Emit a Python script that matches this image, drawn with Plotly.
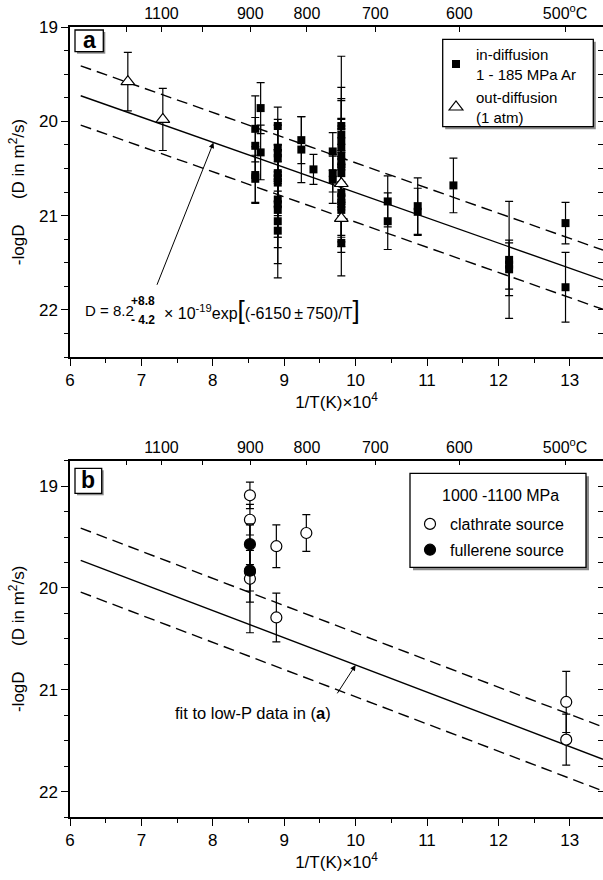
import numpy as np
import plotly.graph_objects as go

# ---------------- data ----------------
# panel (a): in-diffusion, 1 - 185 MPa Ar  (x = 1/T(K) x 10^4, y = -logD)
a_in_x = [8.595, 8.595, 8.595, 8.595,
          8.67, 8.67,
          8.91, 8.91, 8.91, 8.91, 8.91, 8.91, 8.91, 8.91, 8.91, 8.91, 8.91, 8.91,
          9.24, 9.24,
          9.41,
          9.68, 9.68, 9.68,
          9.80, 9.80, 9.80, 9.80, 9.80, 9.80, 9.80, 9.80, 9.80, 9.80, 9.80, 9.80, 9.80,
          10.45, 10.45,
          10.87, 10.87,
          11.37,
          12.15, 12.15, 12.15,
          12.94, 12.94]
a_in_y = [20.08, 20.26, 20.57, 20.61,
          19.86, 20.33,
          20.05, 20.28, 20.34, 20.39, 20.55, 20.60, 20.65, 20.83, 20.88, 20.94, 21.06, 21.16,
          20.20, 20.30,
          20.51,
          20.32, 20.55, 20.62,
          20.05, 20.14, 20.21, 20.28, 20.37, 20.43, 20.48, 20.55, 20.76, 20.83, 20.88, 20.94, 21.29,
          20.85, 21.06,
          20.90, 20.96,
          20.68,
          21.47, 21.52, 21.57,
          21.08, 21.76]
a_in_err = [0.35, 0.30, 0.30, 0.25,
            0.27, 0.29,
            0.20, 0.30, 0.30, 0.35, 0.30, 0.30, 0.35, 0.40, 0.35, 0.40, 0.45, 0.50,
            0.25, 0.35,
            0.16,
            0.20, 0.20, 0.25,
            0.74, 0.50, 0.45, 0.50, 0.40, 0.45, 0.40, 0.50, 0.45, 0.50, 0.40, 0.45, 0.35,
            0.27, 0.30,
            0.30, 0.25,
            0.29,
            0.62, 0.26, 0.28,
            0.22, 0.37]

# panel (a): out-diffusion, 1 atm
a_out_x = [6.81, 7.30, 9.80, 9.80]
a_out_y = [19.58, 19.98, 20.66, 21.03]
a_out_err = [0.31, 0.33, 0.20, 0.20]

# panel (b): 1000 - 1100 MPa
b_clath_x = [8.52, 8.52, 8.52, 8.52, 8.89, 8.89, 9.31, 12.95, 12.95]
b_clath_y = [19.09, 19.33, 19.84, 19.91, 19.59, 20.29, 19.46, 21.12, 21.49]
b_clath_err = [0.13, 0.15, 0.30, 0.53, 0.21, 0.24, 0.18, 0.30, 0.25]
b_full_x = [8.52, 8.52]
b_full_y = [19.57, 19.83]
b_full_err = [0.20, 0.20]

# Arrhenius fit to the low-pressure data: D = 8.2(+8.8/-4.2)e-19 exp(-6150/T)
D0 = 8.2e-19
D0_plus = 8.8e-19
D0_minus = 4.2e-19
EA_K = 6150.0
fit_x = [6.15, 13.465]

# upper temperature scale
temps_C = [1200, 1100, 1000, 900, 800, 700, 600, 500]
temp_labels = ["", "1100", "", "900", "800", "700", "600", "500<sup>o</sup>C"]


def neg_log_d(d0, x):
    x = np.asarray(x, dtype=float)
    return -np.log10(d0) + EA_K * x * 1e-4 / np.log(10)


temp_pos = [1e4 / (t + 273.15) for t in temps_C]

# ---------------- geometry helpers (page pixels -> paper) ----------------
W, H = 603, 880
ML, MR, MT, MB = 70, 0, 27, 63
PW, PH = W - ML - MR, H - MT - MB


def px(xp):
    return (xp - ML) / PW


def py(yp):
    return 1 - (yp - MT) / PH


FONT = "Liberation Sans, Arial, sans-serif"
X_RANGE = [6, 13.465]
YA_RANGE = [22.5, 19]
YB_RANGE = [22.25, 18.75]
DOM_A = [py(357), 1]
DOM_B = [0, py(460.7)]

fig = go.Figure()

line_style = dict(color="black", width=1.4)
dash_style = dict(color="black", width=1.4, dash="11px,6px")

for xa, ya in (("x", "y"), ("x2", "y2")):
    fig.add_trace(go.Scatter(x=fit_x, y=neg_log_d(D0 + D0_plus, fit_x), mode="lines",
                             line=dash_style, showlegend=False, hoverinfo="skip",
                             xaxis=xa, yaxis=ya))
    fig.add_trace(go.Scatter(x=fit_x, y=neg_log_d(D0 - D0_minus, fit_x), mode="lines",
                             line=dash_style, showlegend=False, hoverinfo="skip",
                             xaxis=xa, yaxis=ya))
    fig.add_trace(go.Scatter(x=fit_x, y=neg_log_d(D0, fit_x), mode="lines",
                             line=line_style, showlegend=False, hoverinfo="skip",
                             xaxis=xa, yaxis=ya))

err_style = dict(type="data", symmetric=True, color="black", thickness=1.2, width=4)

fig.add_trace(go.Scatter(
    x=a_in_x, y=a_in_y, mode="markers", name="in-diffusion<br>1 - 185 MPa Ar",
    marker=dict(symbol="square", size=8, color="black"), legendgroup="in",
    error_y=dict(array=a_in_err, **err_style), xaxis="x", yaxis="y", legend="legend"))
fig.add_trace(go.Scatter(
    x=a_out_x, y=a_out_y, mode="markers", name="out-diffusion<br>(1 atm)",
    marker=dict(symbol="triangle-up", size=12, color="white", line=dict(color="black", width=1.2)),
    legendgroup="out",
    error_y=dict(array=a_out_err, **err_style), xaxis="x", yaxis="y", legend="legend"))

fig.add_trace(go.Scatter(
    x=b_clath_x, y=b_clath_y, mode="markers", name="clathrate source",
    marker=dict(symbol="circle", size=11, color="white", line=dict(color="black", width=1.2)),
    legendgroup="clath",
    error_y=dict(array=b_clath_err, **err_style), xaxis="x2", yaxis="y2", legend="legend2"))
fig.add_trace(go.Scatter(
    x=b_full_x, y=b_full_y, mode="markers", name="fullerene source",
    marker=dict(symbol="circle", size=11, color="black", line=dict(color="black", width=1.2)),
    legendgroup="full",
    error_y=dict(array=b_full_err, **err_style), xaxis="x2", yaxis="y2", legend="legend2"))

# empty traces so the top (temperature) and right axes get drawn
for xa, ya in (("x3", "y3"), ("x4", "y4")):
    fig.add_trace(go.Scatter(x=[], y=[], showlegend=False, hoverinfo="skip", xaxis=xa, yaxis=ya))

tick_font = dict(family=FONT, size=17, color="black")
title_font = dict(family=FONT, size=17, color="black")


def bottom_axis(anchor, title):
    return dict(anchor=anchor, domain=[0, 1], range=X_RANGE, showline=True, linewidth=1.5,
                linecolor="black", ticks="outside", ticklen=7, tickwidth=1.3, tickcolor="black",
                tick0=6, dtick=1, tickfont=tick_font, showgrid=False, zeroline=False,
                minor=dict(ticks="outside", ticklen=4, tickwidth=1.2, tickcolor="black",
                           tick0=6, dtick=0.5, showgrid=False),
                title=dict(text=title, font=title_font, standoff=4))


def left_axis(anchor, domain, rng):
    return dict(anchor=anchor, domain=domain, range=rng, showline=True, linewidth=1.5,
                linecolor="black", ticks="outside", ticklen=7, tickwidth=1.3, tickcolor="black",
                tick0=19, dtick=1, tickfont=tick_font, showgrid=False, zeroline=False,
                minor=dict(ticks="outside", ticklen=4, tickwidth=1.2, tickcolor="black",
                           tick0=19, dtick=0.25, showgrid=False),
                title=dict(text="-logD\u2003\u2002(D in m<sup>2</sup>/s)", font=title_font, standoff=10))


def top_axis(over, anchor):
    return dict(overlaying=over, anchor=anchor, side="top", range=X_RANGE, showline=True,
                linewidth=1.5, linecolor="black", ticks="inside", ticklen=5, tickwidth=1.3,
                tickcolor="black", tickmode="array", tickvals=temp_pos, ticktext=temp_labels,
                tickfont=dict(family=FONT, size=16, color="black"), showgrid=False, zeroline=False)


def right_axis(over, anchor, rng):
    return dict(overlaying=over, anchor=anchor, side="right", range=rng, showline=False,
                ticks="inside", ticklen=5, tickwidth=1.2, tickcolor="black", tick0=19,
                dtick=0.25, showticklabels=False, showgrid=False, zeroline=False)


xlabel = "1/T(K)\u00d710<sup>4</sup>"

fig.update_layout(
    width=W, height=H, margin=dict(l=ML, r=MR, t=MT, b=MB, pad=0),
    paper_bgcolor="white", plot_bgcolor="white",
    font=dict(family=FONT, size=15, color="black"),
    xaxis=bottom_axis("y", xlabel),
    yaxis=left_axis("x", DOM_A, YA_RANGE),
    xaxis2=bottom_axis("y2", xlabel),
    yaxis2=left_axis("x2", DOM_B, YB_RANGE),
    xaxis3=top_axis("x", "y3"),
    yaxis3=right_axis("y", "x3", YA_RANGE),
    xaxis4=top_axis("x2", "y4"),
    yaxis4=right_axis("y2", "x4", YB_RANGE),
    legend=dict(x=px(436), y=py(38), xanchor="left", yanchor="top", bgcolor="rgba(0,0,0,0)",
                borderwidth=0, font=dict(family=FONT, size=15), itemwidth=30,
                tracegroupgap=1),
    legend2=dict(x=px(410), y=py(507), xanchor="left", yanchor="top", bgcolor="rgba(0,0,0,0)",
                 borderwidth=0, font=dict(family=FONT, size=16), itemwidth=30,
                 tracegroupgap=2),
    showlegend=True,
)

shapes = []


def boxed(x0, y0, x1, y1, off=3):
    shapes.append(dict(type="rect", xref="paper", yref="paper", x0=px(x0 + off), x1=px(x1 + off),
                       y0=py(y1 + off), y1=py(y0 + off), fillcolor="#8a8a8a",
                       line=dict(width=0), layer="above"))
    shapes.append(dict(type="rect", xref="paper", yref="paper", x0=px(x0), x1=px(x1),
                       y0=py(y1), y1=py(y0), fillcolor="white",
                       line=dict(color="black", width=1.3), layer="above"))


# legend frames
boxed(442.7, 39.3, 593.3, 126.7, off=2.5)
boxed(410, 473.3, 586, 567.3, off=3)
# panel letter frames
boxed(75, 30, 103.3, 51.7, off=2)
boxed(75, 468.3, 101.7, 493.3, off=2)
fig.update_layout(shapes=shapes)

annotations = [
    dict(text="<b>a</b>", x=px(89.2), y=py(40.5), xref="paper", yref="paper", showarrow=False,
         xanchor="center", yanchor="middle", font=dict(family=FONT, size=23, color="black")),
    dict(text="<b>b</b>", x=px(88.4), y=py(480.5), xref="paper", yref="paper", showarrow=False,
         xanchor="center", yanchor="middle", font=dict(family=FONT, size=23, color="black")),
    dict(text="1000 -1100 MPa", x=px(500), y=py(495), xref="paper", yref="paper", showarrow=False,
         xanchor="center", yanchor="middle", font=dict(family=FONT, size=16, color="black")),
    # Arrhenius expression in panel (a)
    dict(text="D = 8.2", x=6.18, y=22.01, xref="x", yref="y", xanchor="left", yanchor="middle",
         showarrow=False, font=dict(family=FONT, size=15)),
    dict(text="<b>+8.8</b>", x=6.83, y=21.905, xref="x", yref="y", xanchor="left", yanchor="middle",
         showarrow=False, font=dict(family=FONT, size=12)),
    dict(text="<b>- 4.2</b>", x=6.83, y=22.11, xref="x", yref="y", xanchor="left", yanchor="middle",
         showarrow=False, font=dict(family=FONT, size=12)),
    dict(text="\u00d7 10<sup>-19</sup>exp<span style='font-size:26px'>[</span>(-6150\u2009\u00b1\u2009750)/T"
              "<span style='font-size:26px'>]</span>",
         x=7.29, y=22.0, xref="x", yref="y", xanchor="left", yanchor="middle",
         showarrow=False, font=dict(family=FONT, size=16)),
    # arrow from the expression to the fit line
    dict(text="", x=8.01, y=float(neg_log_d(D0, 8.01)), ax=7.21, ay=21.75, xref="x", yref="y",
         axref="x", ayref="y", showarrow=True, arrowhead=2, arrowsize=1.1, arrowwidth=1,
         arrowcolor="black", standoff=0),
    # panel (b) note
    dict(text="fit to low-P data in (<b>a</b>)", x=8.56, y=21.23, xref="x2", yref="y2",
         showarrow=False, font=dict(family=FONT, size=16.5)),
    dict(text="", x=10.0, y=float(neg_log_d(D0, 10.0)), ax=9.73, ay=21.05, xref="x2", yref="y2",
         axref="x2", ayref="y2", showarrow=True, arrowhead=2, arrowsize=1.1, arrowwidth=1,
         arrowcolor="black", standoff=0),
]
fig.update_layout(annotations=annotations)

fig.write_html("out.html")
